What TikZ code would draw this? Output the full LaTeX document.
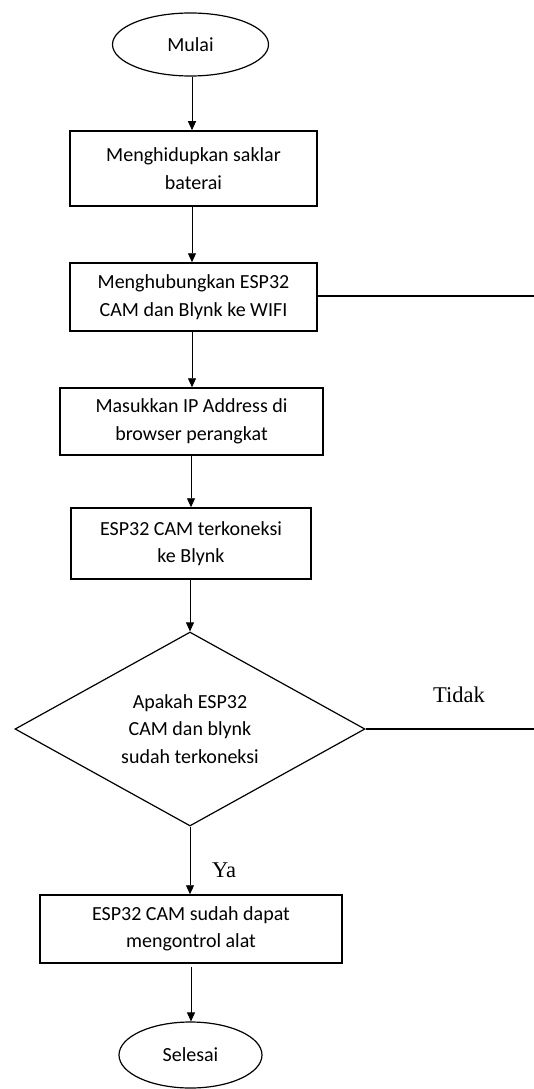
\documentclass[tikz,border=0pt]{standalone}
\usepackage{fontspec}
\setmainfont{Carlito}
\newfontfamily\serifl{Liberation Serif}
\usetikzlibrary{shapes.geometric,arrows.meta}
\begin{document}
\begin{tikzpicture}[x=1pt,y=1pt,
  box/.style={draw,line width=1.5pt,rectangle,inner sep=0pt,align=center,font=\fontsize{20}{27.5}\selectfont},
  term/.style={draw,line width=1.2pt,ellipse,inner sep=0pt,font=\fontsize{20}{27.5}\selectfont},
  dec/.style={draw,line width=1.2pt,diamond,aspect=1.8,inner sep=0pt,align=center,font=\fontsize{20}{27.5}\selectfont},
  arr/.style={line width=0.9pt,-{Triangle[length=9pt,width=8pt]}},
  ln/.style={line width=1.1pt},
  lbl/.style={font=\serifl\fontsize{22.5}{24}\selectfont}]
\useasboundingbox (0,0) rectangle (534,-1089);
\node[term,minimum width=156pt,minimum height=63pt] (start) at (190.5,-44.5) {Mulai};
\node[box,minimum width=247pt,minimum height=75pt] (b1) at (193.5,-168.5) {Menghidupkan saklar\\baterai};
\node[box,minimum width=247pt,minimum height=68pt] (b2) at (193.5,-297) {Menghubungkan ESP32\\CAM dan Blynk ke WIFI};
\node[box,minimum width=263pt,minimum height=67pt] (b3) at (191.5,-421.5) {Masukkan IP Address di\\browser perangkat};
\node[box,minimum width=240pt,minimum height=71pt] (b4) at (191,-543.5) {ESP32 CAM terkoneksi\\ke Blynk};
\node[dec,minimum width=350pt,minimum height=194pt] (d) at (190,-729) {Apakah ESP32\\CAM dan blynk\\sudah terkoneksi};
\node[box,minimum width=302pt,minimum height=68pt] (b5) at (191,-929) {ESP32 CAM sudah dapat\\mengontrol alat};
\node[term,minimum width=143pt,minimum height=66pt] (end) at (190.5,-1055) {Selesai};
\node[lbl] (tidak) at (459,-695) {Tidak};
\node[lbl] (ya) at (224,-870) {Ya};
\coordinate (r1) at (534,-296);
\coordinate (r2) at (534,-729);
\draw[arr] (start.south -| 192,0) -- (192,0 |- b1.north);
\draw[arr] (b1.south -| 192,0) -- (192,0 |- b2.north);
\draw[arr] (b2.south -| 192,0) -- (192,0 |- b3.north);
\draw[arr] (b3.south -| 191,0) -- (191,0 |- b4.north);
\draw[arr] (b4.south -| 190,0) -- (d.north);
\draw[arr] (d.south) -- (190,0 |- b5.north);
\draw[arr] (191,-967) -- (191,0 |- end.north);
\draw[ln] (b2.east |- r1) -- (r1);
\draw[ln] (d.east) -- (r2);
\end{tikzpicture}
\end{document}
